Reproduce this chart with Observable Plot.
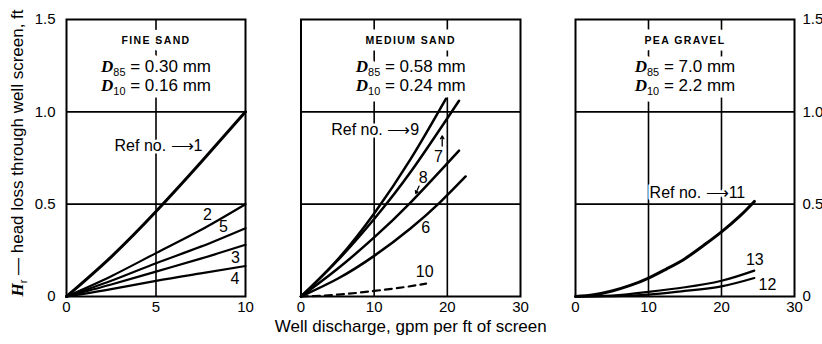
<!DOCTYPE html>
<html>
<head>
<meta charset="utf-8">
<script src="https://cdn.jsdelivr.net/npm/d3@7"></script>
<script src="https://cdn.jsdelivr.net/npm/@observablehq/plot@0.6"></script>
<style>
  body { margin: 0; background: #fff; }
  #chart { position: relative; width: 822px; height: 344px; overflow: hidden; background: #fff; }
  #chart svg { position: absolute; top: 0; }
</style>
</head>
<body>
<div id="chart"></div>
<script>
// ---------- DATA ----------
// Fine sand (discharge 0-10 gpm/ft)
const fineQ    = [0, 2.5, 5, 7.5, 10];
const fineRef1 = [0, 0.215, 0.46, 0.725, 1.0];
const fineRef2 = [0, 0.11, 0.235, 0.36, 0.5];
const fineRef5 = [0, 0.085, 0.18, 0.27, 0.37];
const fineRef3 = [0, 0.065, 0.135, 0.205, 0.28];
const fineRef4 = [0, 0.04, 0.085, 0.125, 0.165];

// Medium sand (discharge 0-30)
const medQ9   = [0, 5, 10, 15, 19.8];
const medRef9 = [0, 0.2, 0.45, 0.745, 1.07];
const medQ7   = [0, 5, 10, 15, 21.6];
const medRef7 = [0, 0.195, 0.42, 0.675, 1.06];
const medQ8   = [0, 5, 10, 15, 21.6];
const medRef8 = [0, 0.15, 0.32, 0.51, 0.79];
const medQ6   = [0, 5, 10, 15, 19, 22.5];
const medRef6 = [0, 0.096, 0.22, 0.37, 0.51, 0.65];
const medQ10   = [0, 5, 10, 14, 17.1];
const medRef10 = [0, 0.01, 0.03, 0.05, 0.07];

// Pea gravel (discharge 0-30)
const peaQ11   = [0, 2.5, 5, 7.5, 10, 12.5, 15, 17.5, 20, 22.5, 24.5];
const peaRef11 = [0, 0.01, 0.03, 0.06, 0.1, 0.15, 0.205, 0.275, 0.35, 0.435, 0.515];
const peaQ13   = [0, 5, 10, 15, 20, 24.5];
const peaRef13 = [0, 0.005, 0.025, 0.05, 0.085, 0.14];
const peaQ12   = [0, 5, 10, 15, 20, 24.5];
const peaRef12 = [0, 0.002, 0.01, 0.03, 0.055, 0.1];

// Headers
const fineHead = ["FINE SAND", "D85 = 0.30 mm", "D10 = 0.16 mm"];
const medHead  = ["MEDIUM SAND", "D85 = 0.58 mm", "D10 = 0.24 mm"];
const peaHead  = ["PEA GRAVEL", "D85 = 7.0 mm", "D10 = 2.2 mm"];

// Curve labels
const fineLabelText = ["Ref no. \u27f61", "2", "5", "3", "4"];
const fineLabelQ    = [5.14, 7.87, 8.77, 9.44, 9.41];
const fineLabelH    = [0.815, 0.443, 0.375, 0.207, 0.098];
const medLabelText = ["Ref no. \u27f69", "7", "8", "6", "10"];
const medLabelQ    = [10.14, 18.8, 16.7, 17.05, 16.9];
const medLabelH    = [0.90, 0.757, 0.644, 0.372, 0.136];
const peaLabelText = ["Ref no. \u27f611", "13", "12"];
const peaLabelQ    = [16.7, 24.56, 26.3];
const peaLabelH    = [0.5625, 0.198, 0.065];

// small pointer arrows (labels 7 and 8)
const medArrowQ1 = [19.3, 16.14];
const medArrowH1 = [0.815, 0.598];
const medArrowQ2 = [19.3, 15.68];
const medArrowH2 = [0.87, 0.558];

const yTicks = [0, 0.5, 1.0, 1.5];
const yTitle = "Hr \u2014 head loss through well screen, ft";
const xTitle = "Well discharge, gpm per ft of screen";

// ---------- HELPERS ----------
const zip = (q, h, id) => q.map((v, i) => ({q: v, h: h[i], id}));
const labelRows = (t, q, h) => t.map((s, i) => ({t: s, q: q[i], h: h[i]}));

function headMarks(head) {
  const lines = [
    {t: head[0], dy: 17, fs: 10.5, fw: "bold"},
    {t: head[1], dy: 40, fs: 17, fw: "normal"},
    {t: head[2], dy: 59, fs: 17, fw: "normal"}
  ];
  const halo = lines.map(l => Plot.text([l.t], {frameAnchor: "top", dy: l.dy, text: d => d, fontSize: l.fs, fontWeight: l.fw,
    fill: "#fff", stroke: "#fff", strokeWidth: 13}));
  const ink = lines.map(l => Plot.text([l.t], {frameAnchor: "top", dy: l.dy, text: d => d, fontSize: l.fs, fontWeight: l.fw,
    fill: "#000"}));
  return [...halo, ...ink];
}

function panel(cfg) {
  const marks = [
    Plot.ruleX(cfg.gridQ, {strokeWidth: 1.6, stroke: "#000"}),
    Plot.ruleY([0.5, 1.0], {strokeWidth: 1.6, stroke: "#000"}),
    ...headMarks(cfg.head),
    Plot.text(cfg.labels, {x: "q", y: "h", text: "t", fontSize: 16, fill: "#000", stroke: "#fff", strokeWidth: 5}),
    ...cfg.series.map(s => Plot.line(s.data, {x: "q", y: "h", curve: "natural", stroke: "#000",
      strokeWidth: s.w, strokeDasharray: s.dash || null})),
    Plot.frame({stroke: "#000", strokeWidth: 2})
  ];
  if (cfg.extra) marks.push(...cfg.extra);
  const svg = Plot.plot({
    width: cfg.width, height: 344,
    marginTop: 19, marginBottom: 48, marginLeft: cfg.mL, marginRight: cfg.mR,
    style: {background: "transparent", fontFamily: "'Liberation Sans', Arial, sans-serif", fontSize: "15px", color: "#000", overflow: "visible"},
    x: {domain: [0, cfg.xMax], ticks: cfg.xTicks, tickSize: 0, tickPadding: 5, label: null, tickFormat: d => String(d)},
    y: {domain: [0, 1.5], ticks: yTicks, tickSize: 0, tickPadding: cfg.yAxis === "left" ? 11 : 8,
        axis: cfg.yAxis, label: null, tickFormat: d => d === 0 ? "0" : d.toFixed(1)},
    marks
  });
  svg.style.left = cfg.left + "px";
  enrich(svg);
  document.getElementById("chart").appendChild(svg);
}

function enrich(svg) {
  const ns = "http://www.w3.org/2000/svg";
  svg.querySelectorAll("text").forEach(el => {
    const t = el.textContent;
    const m = t.match(/^(D)(\d+)( = .*)$/) || t.match(/^(H)(r)( \u2014 .*)$/);
    if (m) {
      const fs = 17;
      el.textContent = "";
      const a = document.createElementNS(ns, "tspan");
      a.textContent = m[1];
      a.setAttribute("font-family", "'Liberation Serif', serif");
      a.setAttribute("font-style", "italic");
      a.setAttribute("font-weight", "bold");
      const b = document.createElementNS(ns, "tspan");
      b.textContent = m[2];
      b.setAttribute("font-size", (fs * 0.64).toFixed(1));
      b.setAttribute("dy", (fs * 0.25).toFixed(1));
      const c = document.createElementNS(ns, "tspan");
      c.textContent = m[3];
      c.setAttribute("dy", (-fs * 0.25).toFixed(1));
      el.append(a, b, c);
    }
    if (/^(FINE SAND|MEDIUM SAND|PEA GRAVEL)$/.test(t)) el.setAttribute("letter-spacing", "1.4");
  });
}

// ---------- PANELS ----------
panel({
  left: 0, width: 265, mL: 66, mR: 20, xMax: 10, xTicks: [0, 5, 10], gridQ: [5], yAxis: "left",
  head: fineHead,
  labels: labelRows(fineLabelText, fineLabelQ, fineLabelH),
  series: [
    {data: zip(fineQ, fineRef1, 1), w: 3},
    {data: zip(fineQ, fineRef2, 2), w: 2.2},
    {data: zip(fineQ, fineRef5, 5), w: 2.2},
    {data: zip(fineQ, fineRef3, 3), w: 2.2},
    {data: zip(fineQ, fineRef4, 4), w: 2.2}
  ],
  extra: [
    Plot.text([yTitle], {frameAnchor: "left", textAnchor: "middle", dx: -49, dy: -5, rotate: -90, text: d => d, fontSize: 17, fill: "#000"})
  ]
});

panel({
  left: 250, width: 310, mL: 50.5, mR: 40, xMax: 30, xTicks: [0, 10, 20, 30], gridQ: [10, 20], yAxis: null,
  head: medHead,
  labels: labelRows(medLabelText, medLabelQ, medLabelH),
  series: [
    {data: zip(medQ9, medRef9, 9), w: 2.5},
    {data: zip(medQ7, medRef7, 7), w: 2.5},
    {data: zip(medQ8, medRef8, 8), w: 2.5},
    {data: zip(medQ6, medRef6, 6), w: 2.5},
    {data: zip(medQ10, medRef10, 10), w: 2.2, dash: "7,5"}
  ],
  extra: [
    Plot.arrow(medArrowQ1.map((v, i) => i), {x1: i => medArrowQ1[i], y1: i => medArrowH1[i], x2: i => medArrowQ2[i], y2: i => medArrowH2[i],
      stroke: "#000", strokeWidth: 1.3, headLength: 5}),
    Plot.text([xTitle], {frameAnchor: "bottom", dy: 35, text: d => d, fontSize: 17, fill: "#000"})
  ]
});

panel({
  left: 555, width: 267, mL: 20, mR: 28, xMax: 30, xTicks: [0, 10, 20, 30], gridQ: [10, 20], yAxis: "right",
  head: peaHead,
  labels: labelRows(peaLabelText, peaLabelQ, peaLabelH),
  series: [
    {data: zip(peaQ11, peaRef11, 11), w: 3},
    {data: zip(peaQ13, peaRef13, 13), w: 2.2},
    {data: zip(peaQ12, peaRef12, 12), w: 2.2}
  ]
});
</script>
</body>
</html>
